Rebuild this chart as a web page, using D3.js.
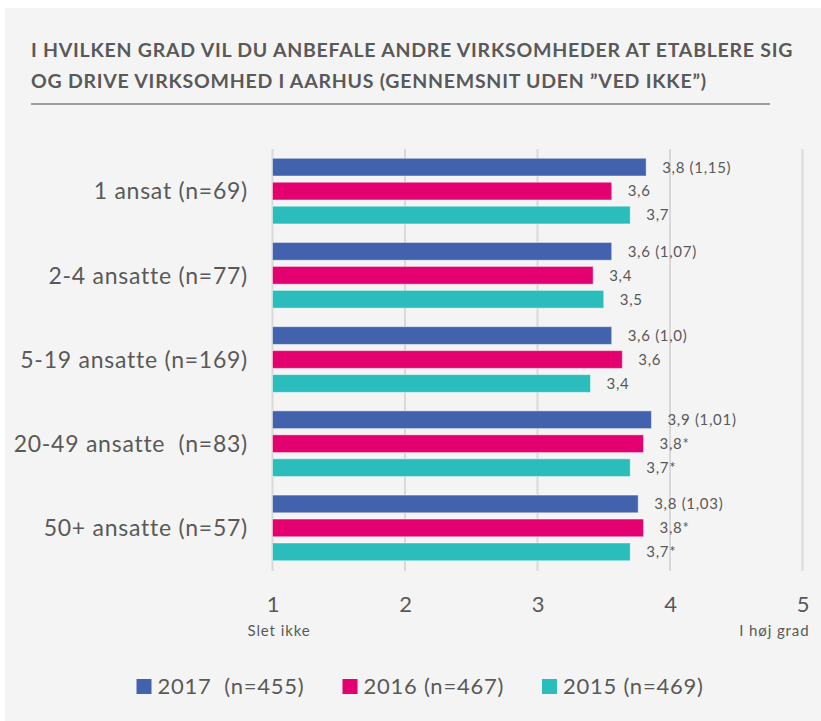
<!DOCTYPE html>
<html>
<head>
<meta charset="utf-8">
<script src="https://cdn.jsdelivr.net/npm/d3@7"></script>
<style>
  html, body { margin: 0; padding: 0; background: #ffffff; }
  svg { display: block; font-family: Lato, "Open Sans", sans-serif; }
</style>
</head>
<body>
<svg id="chart" width="821" height="721"></svg>
<script>
// chart data
var categories = ['1 ansat (n=69)', '2-4 ansatte (n=77)', '5-19 ansatte (n=169)', '20-49 ansatte  (n=83)', '50+ ansatte (n=57)'];
var seriesNames = ['2017  (n=455)', '2016 (n=467)', '2015 (n=469)'];
var values2017 = [3.82, 3.56, 3.56, 3.86, 3.76];
var values2016 = [3.56, 3.42, 3.64, 3.80, 3.80];
var values2015 = [3.70, 3.50, 3.40, 3.70, 3.70];
var stdDev2017 = ['1,15', '1,07', '1,0', '1,01', '1,03'];
var signif = ['', '', '', '*', '*'];
var ticks = [1, 2, 3, 4, 5];
var tickEnds = ['Slet ikke', 'I høj grad'];
var title = ['I HVILKEN GRAD VIL DU ANBEFALE ANDRE VIRKSOMHEDER AT ETABLERE SIG',
             'OG DRIVE VIRKSOMHED I AARHUS (GENNEMSNIT UDEN \u201DVED IKKE\u201D)'];

var colors = ['#4262ae', '#e3006f', '#2bbdbb'];
var textColor = '#595959';

var series = [values2017, values2016, values2015];
var fmt = function (v) { return d3.format('.1f')(v).replace('.', ','); };
function labelFor(s, i) {
  if (s === 0) return fmt(values2017[i]) + ' (' + stdDev2017[i] + ')';
  return fmt(series[s][i]) + signif[i];
}

var svg = d3.select('#chart');

// background panel
svg.append('rect')
  .attr('x', 5).attr('y', 8)
  .attr('width', 816).attr('height', 713)
  .attr('fill', '#f4f4f4');

// title
svg.append('g').selectAll('text')
  .data(title)
  .join('text')
  .attr('x', 31)
  .attr('y', function (d, i) { return 57 + i * 31; })
  .attr('fill', textColor)
  .attr('font-weight', 'bold')
  .attr('font-size', 19.5)
  .attr('letter-spacing', 0.75)
  .text(function (d) { return d; });

svg.append('line')
  .attr('x1', 31).attr('x2', 770)
  .attr('y1', 104).attr('y2', 104)
  .attr('stroke', '#7f7f7f')
  .attr('stroke-width', 1.5);

// scales
var x = d3.scaleLinear().domain([1, 5]).range([272.5, 802.5]);
var y0 = d3.scaleBand().domain(categories).range([149, 570]).paddingInner(0.22).paddingOuter(0.11);
var y1 = d3.scaleBand().domain([0, 1, 2]).range([0, y0.bandwidth()]).paddingInner(0.26);

// gridlines
var grid = svg.append('g');
grid.selectAll('line')
  .data(ticks)
  .join('line')
  .attr('x1', function (d) { return x(d); })
  .attr('x2', function (d) { return x(d); })
  .attr('y1', 149).attr('y2', 571)
  .attr('stroke', '#d9d9d9')
  .attr('stroke-width', 2);

// x axis tick labels
var xAxis = svg.append('g')
  .attr('transform', 'translate(0,612)')
  .call(d3.axisBottom(x).tickValues(ticks).tickSize(0).tickPadding(0).tickFormat(d3.format('d')));
xAxis.select('.domain').remove();
xAxis.selectAll('text')
  .attr('fill', textColor)
  .attr('font-size', 22)
  .attr('font-family', 'Lato, sans-serif')
  .attr('dy', 0);

svg.append('text')
  .attr('x', x(1) - 25).attr('y', 636)
  .attr('fill', textColor).attr('font-size', 15)
  .attr('letter-spacing', 0.9)
  .text(tickEnds[0]);
svg.append('text')
  .attr('x', x(5) + 7).attr('y', 636)
  .attr('text-anchor', 'end')
  .attr('fill', textColor).attr('font-size', 15)
  .attr('letter-spacing', 0.9)
  .text(tickEnds[1]);

// category labels
svg.append('g').selectAll('text')
  .data(categories)
  .join('text')
  .attr('x', 248)
  .attr('y', function (d) { return y0(d) + y0.bandwidth() / 2; })
  .attr('dy', '0.36em')
  .attr('text-anchor', 'end')
  .attr('fill', textColor)
  .attr('font-size', 23)
  .attr('letter-spacing', 0.75)
  .style('white-space', 'pre')
  .text(function (d) { return d; });

// bars
var groups = svg.append('g').selectAll('g')
  .data(categories)
  .join('g')
  .attr('transform', function (d) { return 'translate(0,' + y0(d) + ')'; });

groups.selectAll('rect')
  .data(function (d, i) { return series.map(function (s, k) { return { s: k, i: i, v: s[i] }; }); })
  .join('rect')
  .attr('x', x(1))
  .attr('y', function (d) { return y1(d.s); })
  .attr('width', function (d) { return x(d.v) - x(1); })
  .attr('height', y1.bandwidth())
  .attr('fill', function (d) { return colors[d.s]; })
  .attr('stroke', 'rgba(255,255,255,0.45)')
  .attr('stroke-width', 1);

groups.selectAll('text')
  .data(function (d, i) { return series.map(function (s, k) { return { s: k, i: i, v: s[i] }; }); })
  .join('text')
  .attr('x', function (d) { return x(d.v) + 16; })
  .attr('y', function (d) { return y1(d.s) + y1.bandwidth() / 2; })
  .attr('dy', '0.36em')
  .attr('fill', textColor)
  .attr('font-size', 15)
  .attr('letter-spacing', 0.7)
  .text(function (d) { return labelFor(d.s, d.i); });

// legend
var legendX = [136.5, 342.5, 542];
var legend = svg.append('g').selectAll('g')
  .data(seriesNames)
  .join('g')
  .attr('transform', function (d, i) { return 'translate(' + legendX[i] + ',679)'; });
legend.append('rect')
  .attr('width', 15).attr('height', 15)
  .attr('fill', function (d, i) { return colors[i]; });
legend.append('text')
  .attr('x', 21).attr('y', 15)
  .attr('fill', textColor)
  .attr('font-size', 22)
  .attr('letter-spacing', 0.75)
  .style('white-space', 'pre')
  .text(function (d) { return d; });
</script>
</body>
</html>
